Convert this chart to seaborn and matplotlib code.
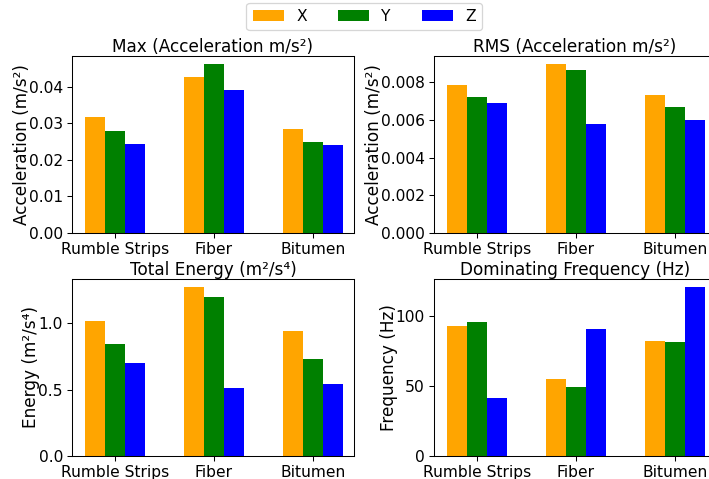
import numpy as np
import pandas as pd
import matplotlib
matplotlib.use("Agg")
import matplotlib.pyplot as plt
from matplotlib.patches import Patch
import seaborn as sns

surfaces = ["Rumble Strips", "Fiber", "Bitumen"]
axes_names = ["X", "Y", "Z"]
colors = ["orange", "green", "blue"]

max_x = [0.0318, 0.0427, 0.0285]
max_y = [0.0279, 0.0461, 0.0249]
max_z = [0.0244, 0.0392, 0.0241]

rms_x = [0.00786, 0.00894, 0.00733]
rms_y = [0.00722, 0.00865, 0.00669]
rms_z = [0.00690, 0.00579, 0.00597]

energy_x = [1.015, 1.271, 0.940]
energy_y = [0.842, 1.196, 0.729]
energy_z = [0.698, 0.510, 0.540]

freq_x = [92.4, 54.6, 81.7]
freq_y = [95.3, 48.9, 81.0]
freq_z = [41.1, 90.3, 120.2]

panels = [
    ("Max (Acceleration m/s²)", "Acceleration (m/s²)", (max_x, max_y, max_z)),
    ("RMS (Acceleration m/s²)", "Acceleration (m/s²)", (rms_x, rms_y, rms_z)),
    ("Total Energy (m²/s⁴)", "Energy (m²/s⁴)", (energy_x, energy_y, energy_z)),
    ("Dominating Frequency (Hz)", "Frequency (Hz)", (freq_x, freq_y, freq_z)),
]

DPI = 93.3
W, H = 709, 479
fig = plt.figure(figsize=(W / DPI, H / DPI), dpi=DPI)

positions = [
    (72, 56), (434, 56),
    (72, 279), (434, 279),
]
aw, ah = 282, 177

for (title, ylabel, series), (lx, ty) in zip(panels, positions):
    ax = fig.add_axes([lx / W, 1 - (ty + ah) / H, aw / W, ah / H])
    rows = []
    for name, vals in zip(axes_names, series):
        for s, v in zip(surfaces, vals):
            rows.append({"surface": s, "axis": name, "value": v})
    df = pd.DataFrame(rows)
    sns.barplot(data=df, x="surface", y="value", hue="axis", order=surfaces,
                hue_order=axes_names, palette=colors, width=0.6, saturation=1,
                errorbar=None, legend=False, ax=ax)
    ax.set_xlim(-0.434, 2.414)
    ax.set_title(title, fontsize=13, pad=1.5)
    ax.set_ylabel(ylabel, fontsize=13, labelpad=-1.5)
    ax.set_xlabel("")
    ax.tick_params(labelsize=12)

handles = [Patch(facecolor=c) for c in colors]
fig.legend(handles, axes_names, loc="upper center", bbox_to_anchor=(0.514, 1.01),
           ncol=3, fontsize=12)

fig.savefig("out.png", dpi=DPI)
